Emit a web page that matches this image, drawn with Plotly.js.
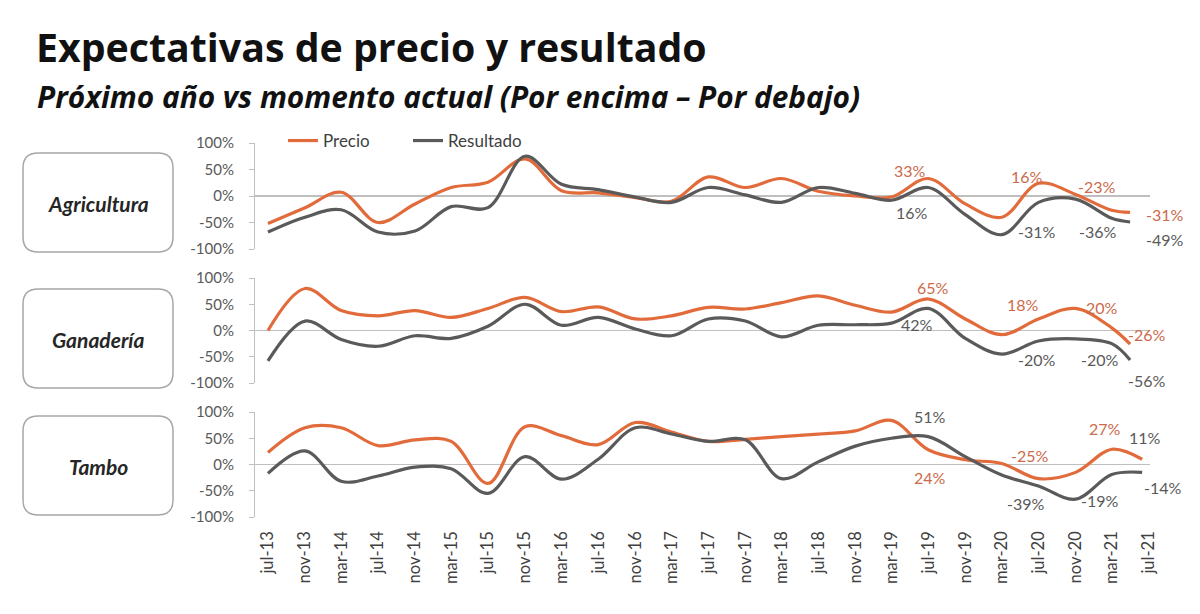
<!DOCTYPE html>
<html>
<head>
<meta charset="utf-8">
<script src="https://cdn.plot.ly/plotly-3.0.1.min.js"></script>
<style>html,body{margin:0;padding:0;background:#fff;}#chart{width:1200px;height:614px;}</style>
</head>
<body>
<div id="chart"></div>
<script>
// ---- data ----
const fechas = ['2013-07-01','2013-11-01','2014-03-01','2014-07-01','2014-11-01','2015-03-01','2015-07-01','2015-11-01','2016-03-01','2016-07-01','2016-11-01','2017-03-01','2017-07-01','2017-11-01','2018-03-01','2018-07-01','2018-11-01','2019-03-01','2019-07-01','2019-11-01','2020-03-01','2020-07-01','2020-11-01','2021-03-01','2021-05-01'];
const fechasTambo = ['2013-07-01','2013-11-01','2014-03-01','2014-07-01','2014-11-01','2015-03-01','2015-07-01','2015-11-01','2016-03-01','2016-07-01','2016-11-01','2017-03-01','2017-07-01','2017-11-01','2018-03-01','2018-07-01','2018-11-01','2019-03-01','2019-07-01','2019-11-01','2020-03-01','2020-07-01','2020-11-01','2021-03-01','2021-06-10'];

const agriPrecio     = [-52,-22,7,-50,-15,16,26,70,10,6,-3,-10,36,16,33,9,0,-2,33,-15,-40,24,3,-27,-31];
const agriResultado  = [-68,-40,-26,-68,-66,-20,-22,75,22,12,-2,-12,16,2,-12,16,5,-8,16,-35,-73,-12,-6,-42,-49];
const ganPrecio      = [0,80,38,28,38,25,42,63,36,45,22,28,44,41,53,66,48,35,60,22,-8,22,42,5,-26];
const ganResultado   = [-58,18,-17,-30,-10,-15,8,50,10,25,3,-10,22,18,-12,10,11,14,42,-15,-45,-20,-16,-25,-56];
const tamboPrecio    = [23,70,70,36,47,44,-36,72,55,38,80,62,44,48,53,58,64,84,28,9,2,-27,-15,29,10];
const tamboResultado = [-17,26,-32,-22,-5,-8,-55,15,-28,10,70,58,44,47,-27,5,35,50,53,15,-20,-41,-66,-19,-15];

const tickFechas = ['2013-07-01','2013-11-01','2014-03-01','2014-07-01','2014-11-01','2015-03-01','2015-07-01','2015-11-01','2016-03-01','2016-07-01','2016-11-01','2017-03-01','2017-07-01','2017-11-01','2018-03-01','2018-07-01','2018-11-01','2019-03-01','2019-07-01','2019-11-01','2020-03-01','2020-07-01','2020-11-01','2021-03-01','2021-07-01'];
const tickTexto = ['jul-13','nov-13','mar-14','jul-14','nov-14','mar-15','jul-15','nov-15','mar-16','jul-16','nov-16','mar-17','jul-17','nov-17','mar-18','jul-18','nov-18','mar-19','jul-19','nov-19','mar-20','jul-20','nov-20','mar-21','jul-21'];
const yTicks = [-100,-50,0,50,100];
const yTickTexto = ['-100%','-50%','0%','50%','100%'];
const sectores = ['Agricultura','Ganadería','Tambo'];

// ---- layout helpers ----
const W = 1200, H = 614;
const px = x => x / W;
const py = y => 1 - y / H;
const ORANGE = '#E26B3C', GREY = '#5A5A5A';
const LBL_OR = '#CC6A4C', LBL_GR = '#595959';
const FONT = 'Lato, "Open Sans", sans-serif';
const TFONT = '"Open Sans", Lato, sans-serif';

const panels = [{top:143,bot:249},{top:278,bot:383},{top:412,bot:517}];
const xr = ['2013-05-19','2021-07-06'];

function tr(x, y, name, color, ax, show) {
  return {x:x, y:y, name:name, type:'scatter', mode:'lines',
    line:{color:color, width:3.2, shape:'spline', smoothing:1},
    xaxis:ax[0], yaxis:ax[1], showlegend:show, hoverinfo:'skip'};
}
const data = [
  tr(fechas, agriPrecio, 'Precio', ORANGE, ['x','y'], true),
  tr(fechas, agriResultado, 'Resultado', GREY, ['x','y'], true),
  tr(fechas, ganPrecio, 'Precio', ORANGE, ['x2','y2'], false),
  tr(fechas, ganResultado, 'Resultado', GREY, ['x2','y2'], false),
  tr(fechasTambo, tamboPrecio, 'Precio', ORANGE, ['x3','y3'], false),
  tr(fechasTambo, tamboResultado, 'Resultado', GREY, ['x3','y3'], false)
];

function xax(anchor, labels) {
  const a = {domain:[px(255), px(1150)], anchor:anchor, type:'date', range:xr,
    showgrid:false, zeroline:false, showline:false, ticks:'', fixedrange:true,
    showticklabels:labels};
  if (labels) {
    a.tickmode = 'array'; a.tickvals = tickFechas; a.ticktext = tickTexto;
    a.tickangle = -90; a.tickfont = {family:FONT, size:16.5, color:'#404040'};
    a.ticklabelstandoff = 10;
  }
  return a;
}
function yax(p, anchor) {
  return {domain:[py(p.bot), py(p.top)], anchor:anchor, range:[-100,100],
    tickmode:'array', tickvals:yTicks, ticktext:yTickTexto,
    showgrid:false, showline:true, linecolor:'#BFBFBF', linewidth:1,
    ticks:'outside', ticklen:5, tickcolor:'#BFBFBF',
    zeroline:true, zerolinecolor:'#BFBFBF', zerolinewidth:1.5,
    tickfont:{family:FONT, size:15, color:'#595959'}, ticklabelstandoff:12, fixedrange:true};
}

function roundRect(x0,y0,x1,y1,r){
  const X=px, Y=py;
  return `M ${X(x0+r)} ${Y(y0)} L ${X(x1-r)} ${Y(y0)} Q ${X(x1)} ${Y(y0)} ${X(x1)} ${Y(y0+r)} `+
         `L ${X(x1)} ${Y(y1-r)} Q ${X(x1)} ${Y(y1)} ${X(x1-r)} ${Y(y1)} `+
         `L ${X(x0+r)} ${Y(y1)} Q ${X(x0)} ${Y(y1)} ${X(x0)} ${Y(y1-r)} `+
         `L ${X(x0)} ${Y(y0+r)} Q ${X(x0)} ${Y(y0)} ${X(x0+r)} ${Y(y0)} Z`;
}
const boxes = [{y0:153,y1:252,cy:204},{y0:289,y1:388,cy:339},{y0:416,y1:515,cy:466}];
const shapes = boxes.map(b => ({type:'path', xref:'paper', yref:'paper',
  path: roundRect(23,b.y0,173,b.y1,15), line:{color:'#A6A6A6', width:1.5}, fillcolor:'rgba(0,0,0,0)'}));

const annotations = [
  {text:'<b>Expectativas de precio y resultado</b>', x:px(34), y:py(47), xanchor:'left', yanchor:'middle',
   font:{family:TFONT, size:39.3, color:'#111111'}},
  {text:'<b><i>Próximo año vs momento actual (Por encima – Por debajo)</i></b>', x:px(35), y:py(97), xanchor:'left', yanchor:'middle',
   font:{family:TFONT, size:29.8, color:'#111111'}}
];
sectores.forEach((s,i) => annotations.push({text:'<b><i>'+s+'</i></b>', x:px(98), y:py(boxes[i].cy),
  xanchor:'center', yanchor:'middle', font:{family:FONT, size:21, color:'#262626'}}));

const etiquetas = [
  ['33%',910,170,LBL_OR],['16%',912,213,LBL_GR],['16%',1027,176,LBL_OR],['-31%',1037,232,LBL_GR],
  ['-23%',1097,186,LBL_OR],['-36%',1098,232,LBL_GR],['-31%',1165,215,LBL_OR],['-49%',1165,240,LBL_GR],
  ['65%',933,287,LBL_OR],['42%',917,324,LBL_GR],['18%',1023,304,LBL_OR],['-20%',1037,359,LBL_GR],
  ['20%',1102,307,LBL_OR],['-20%',1100,359,LBL_GR],['-26%',1147,334,LBL_OR],['-56%',1147,380,LBL_GR],
  ['51%',930,416,LBL_GR],['24%',930,477,LBL_OR],['-25%',1030,455,LBL_OR],['-39%',1026,503,LBL_GR],
  ['27%',1105,428,LBL_OR],['11%',1145,437,LBL_GR],['-19%',1100,500,LBL_GR],['-14%',1163,487,LBL_GR]
];
etiquetas.forEach(e => annotations.push({text:e[0], x:px(e[1]), y:py(e[2]), xanchor:'center', yanchor:'middle',
  font:{family:FONT, size:16, color:e[3]}}));
annotations.forEach(a => { a.xref='paper'; a.yref='paper'; a.showarrow=false; });

const layout = {
  width:W, height:H, margin:{l:0,r:0,t:0,b:0}, paper_bgcolor:'#ffffff', plot_bgcolor:'rgba(0,0,0,0)',
  xaxis:xax('y',false), xaxis2:xax('y2',false), xaxis3:xax('y3',true),
  yaxis:yax(panels[0],'x'), yaxis2:yax(panels[1],'x2'), yaxis3:yax(panels[2],'x3'),
  showlegend:true,
  legend:{orientation:'h', x:px(283), y:py(123), xanchor:'left', yanchor:'top',
    font:{family:FONT, size:17, color:'#404040'}, entrywidth:80, entrywidthmode:'pixels',
    bgcolor:'rgba(0,0,0,0)', tracegroupgap:0},
  shapes:shapes, annotations:annotations
};
Plotly.newPlot('chart', data, layout, {staticPlot:true, displayModeBar:false});
</script>
</body>
</html>
